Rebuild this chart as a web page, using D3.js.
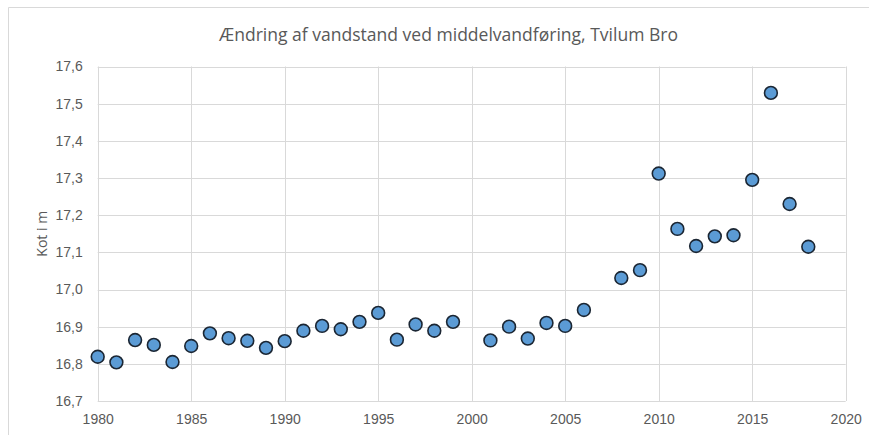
<!DOCTYPE html>
<html>
<head>
<meta charset="utf-8">
<script src="https://cdn.jsdelivr.net/npm/d3@7"></script>
<style>
  body { margin: 0; background: #fff; }
  svg { display: block; font-family: "Open Sans", sans-serif; }
</style>
</head>
<body>
<div id="chart-area"></div>
<script>
const width = 869, height = 435;
const margin = ({top: 66.5, right: 23.3, bottom: 34, left: 97.7});

// Data: water level at mean discharge (no values for 2000 and 2007)
const years = [1980, 1981, 1982, 1983, 1984, 1985, 1986, 1987, 1988, 1989,
    1990, 1991, 1992, 1993, 1994, 1995, 1996, 1997, 1998, 1999,
    2001, 2002, 2003, 2004, 2005, 2006, 2008, 2009, 2010, 2011,
    2012, 2013, 2014, 2015, 2016, 2017, 2018];
const levels = [16.819, 16.804, 16.864, 16.851, 16.805, 16.848, 16.882, 16.869, 16.862, 16.843,
    16.861, 16.889, 16.902, 16.893, 16.913, 16.937, 16.865, 16.906, 16.889, 16.913,
    16.863, 16.900, 16.868, 16.910, 16.902, 16.945, 17.031, 17.052, 17.312, 17.163,
    17.117, 17.143, 17.146, 17.295, 17.529, 17.230, 17.115];
const xTicks = [1980, 1985, 1990, 1995, 2000, 2005, 2010, 2015, 2020];
const yTicks = [16.7, 16.8, 16.9, 17.0, 17.1, 17.2, 17.3, 17.4, 17.5, 17.6];

const title = "Ændring af vandstand ved middelvandføring, Tvilum Bro";
const yLabel = "Kot i m";

const data = years.map((y, i) => ({year: y, level: levels[i]}));

const x = d3.scaleLinear()
    .domain([1980, 2020])
    .range([margin.left, width - margin.right]);

const y = d3.scaleLinear()
    .domain([16.7, 17.6])
    .range([height - margin.bottom, margin.top]);

const svg = d3.select("#chart-area").append("svg")
    .attr("width", width)
    .attr("height", height);

// outer chart frame (only top/left visible in crop)
svg.append("path")
    .attr("d", `M8.5,${height + 2}V7.5H${width + 2}`)
    .attr("fill", "none")
    .attr("stroke", "#d9d9d9")
    .attr("stroke-width", 1);

// Title
svg.append("text")
    .attr("x", 219)
    .attr("y", 41)
    .attr("textLength", 459)
    .attr("lengthAdjust", "spacingAndGlyphs")
    .attr("fill", "#595959")
    .style("font-size", "19px")
    .text(title);

const grid = svg.append("g").attr("stroke", "#d9d9d9").attr("stroke-width", 1);

grid.selectAll("line.h")
    .data(yTicks)
    .enter().append("line")
    .attr("class", "h")
    .attr("x1", x(1980)).attr("x2", x(2020))
    .attr("y1", d => Math.round(y(d)) + 0.5)
    .attr("y2", d => Math.round(y(d)) + 0.5);

grid.selectAll("line.v")
    .data(xTicks)
    .enter().append("line")
    .attr("class", "v")
    .attr("y1", y(16.7)).attr("y2", y(17.6))
    .attr("x1", d => Math.round(x(d)) + 0.5)
    .attr("x2", d => Math.round(x(d)) + 0.5);

const fmt = d => d3.format(".1f")(d).replace(".", ",");

const xAxis = (g) => g
    .attr("transform", `translate(0,${height - margin.bottom})`)
    .call(d3.axisBottom(x).tickValues(xTicks).tickFormat(d3.format("d")).tickSize(0).tickPadding(13))
    .call(g => g.select(".domain").remove())
    .call(g => g.selectAll("text").attr("fill", "#595959").style("font-size", "14px"));

const yAxis = (g) => g
    .attr("transform", `translate(${margin.left},0)`)
    .call(d3.axisLeft(y).tickValues(yTicks).tickFormat(fmt).tickSize(0).tickPadding(15))
    .call(g => g.select(".domain").remove())
    .call(g => g.selectAll("text").attr("fill", "#595959").style("font-size", "14px"));

svg.append("g").call(xAxis);
svg.append("g").call(yAxis);

// y axis title
svg.append("text")
    .attr("transform", `translate(47,${(y(16.7) + y(17.6)) / 2}) rotate(-90)`)
    .attr("text-anchor", "middle")
    .attr("fill", "#595959")
    .style("font-size", "14px")
    .text(yLabel);

// markers
svg.append("g")
    .selectAll("circle")
    .data(data)
    .enter().append("circle")
    .attr("cx", d => x(d.year))
    .attr("cy", d => y(d.level))
    .attr("r", 6.4)
    .attr("fill", "#5b9bd5")
    .attr("stroke", "#1b2633")
    .attr("stroke-width", 1.6);
</script>
</body>
</html>
